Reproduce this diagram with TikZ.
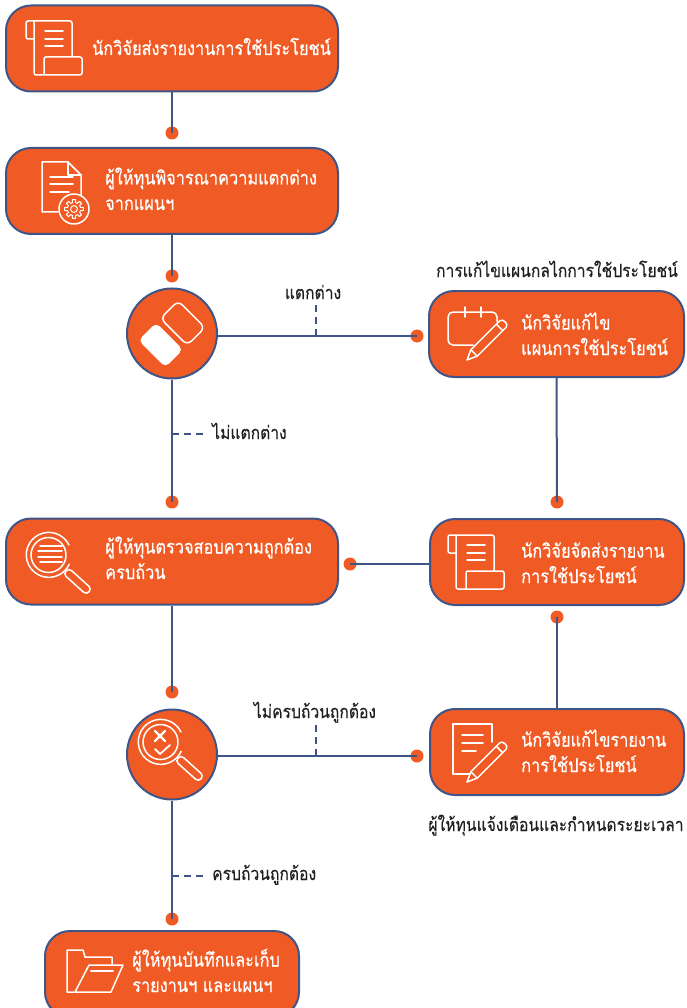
\documentclass[tikz,border=0pt]{standalone}
\usepackage{fontspec}
\setmainfont[Script=Thai]{Loma}
\newfontfamily\boxfont[Script=Thai,FakeStretch=0.86,FakeBold=0.5]{Loma}
\newfontfamily\outfont[Script=Thai,FakeStretch=0.86,FakeBold=0.3]{Loma}
\definecolor{boxorange}{HTML}{F05A24}
\definecolor{navy}{HTML}{3F5588}
\definecolor{labelink}{HTML}{231F20}
\tikzset{
  x=1pt,y=-1pt,
  flowbox/.style={draw=navy,line width=2pt,fill=boxorange,rounded corners=25pt,minimum width=#1,minimum height=86pt,inner sep=0pt},
  roundbox/.style={circle,draw=navy,line width=2pt,fill=boxorange,minimum size=90pt,inner sep=0pt},
  joint/.style={circle,fill=boxorange,minimum size=13pt,inner sep=0pt},
  link/.style={draw=navy,line width=2pt},
  dashlink/.style={draw=navy,line width=1.6pt,dash pattern=on 7pt off 5pt},
  boxtext/.style={anchor=base west,inner sep=0pt,text=white,align=left,font=\boxfont\fontsize{19}{25.5}\selectfont},
  outtext/.style={anchor=base,inner sep=0pt,text=labelink,font=\outfont\fontsize{18.2}{20}\selectfont},
  icon/.style={draw=white,line width=1.5pt,line join=round,line cap=round},
  scrollicon/.pic={
    \draw[icon,rounded corners=2pt] (34,39) -- (26,39) -- (26,21) -- (72,21) -- (72,57);
    \draw[icon,rounded corners=2pt] (34,21) -- (34,75) -- (82,75) -- (82,57) -- (44,57) -- (44,75);
    \draw[icon] (45,31) -- (63,31) (45,39) -- (63,39) (45,46) -- (63,46);
  },
  glassicon/.pic={
    \draw[icon] (48.5,555) circle[radius=17.5];
    \draw[icon] (69,545) arc[start angle=-26,end angle=-335,radius=22.5];
    \begin{scope}[shift={(66,571)},rotate=-42]
      \draw[icon,rounded corners=3.8pt] (0,-4) -- (31,-4) -- (31,4) -- (0,4) -- cycle;
    \end{scope}
  },
  pencilicon/.pic={
    \draw[icon] (0,0) -- (10,-4.5) -- (51,-4.5) .. controls (55,-4.5) and (55,4.5) .. (51,4.5) -- (10,4.5) -- cycle;
    \draw[icon] (10,-4.5) -- (10,4.5) (46,-4.5) -- (46,4.5);
  },
}
\begin{document}
\begin{tikzpicture}
\useasboundingbox (0,0) rectangle (686,1008);
\clip (0,0) rectangle (686,1008);

% boxes
\node[flowbox=332pt] (b1) at (172,48.5) {};
\node[flowbox=332pt] (b2) at (172,191) {};
\node[roundbox] (c1) at (172,333.5) {};
\node[flowbox=255pt] (b3) at (556.5,334) {};
\node[flowbox=332pt] (b4) at (172,561.5) {};
\node[flowbox=254pt] (b5) at (557,562) {};
\node[roundbox] (c2) at (172,754.5) {};
\node[flowbox=254pt] (b6) at (557,752) {};
\node[flowbox=254pt] (b7) at (172,974) {};

% joints
\node[joint] (j1) at (172,133) {};
\node[joint] (j2) at (172,276) {};
\node[joint] (j3) at (417,336) {};
\node[joint] (j4) at (557,502) {};
\node[joint] (j5) at (172,502) {};
\node[joint] (j6) at (350,564) {};
\node[joint] (j7) at (557,617) {};
\node[joint] (j8) at (172,692) {};
\node[joint] (j9) at (417,756) {};
\node[joint] (j10) at (172,919) {};

% connectors
\draw[link] (b1.south) -- (j1.center);
\draw[link] (b2.south) -- (j2.center);
\draw[link] (c1.east |- j3) -- (j3.center);
\draw[link] (b3.south) -- (j4.center);
\draw[link] (c1.south) -- (j5.center);
\draw[link] (b5.west |- j6) -- (j6.center);
\draw[link] (b6.north) -- (j7.center);
\draw[link] (b4.south) -- (j8.center);
\draw[link] (c2.east |- j9) -- (j9.center);
\draw[link] (c2.south) -- (j10.center);

% dashed leaders
\coordinate (t1) at (316,336);  \coordinate (e1) at (316,305);
\coordinate (t2) at (172,434);  \coordinate (e2) at (204,434);
\coordinate (t3) at (316,756);  \coordinate (e3) at (316,725);
\coordinate (t4) at (172,876);  \coordinate (e4) at (204,876);
\draw[dashlink] (t1) -- (e1);
\draw[dashlink] (t2) -- (e2);
\draw[dashlink] (t3) -- (e3);
\draw[dashlink] (t4) -- (e4);

% icons
\pic at (0,0) {scrollicon};
\pic at (422,514) {scrollicon};
\pic at (0,0) {glassicon};
\pic at (112,187) {glassicon};
\draw[icon] (40,546) -- (62,546) (38,551) -- (62,551) (38,557) -- (62,557) (40,562) -- (62,562);

% document + gear
\draw[icon] (58,212) -- (42,212) -- (42,162) -- (68,162) -- (81,175) -- (81,195);
\draw[icon] (68,162) -- (68,175) -- (81,175);
\draw[icon] (50,177) -- (73,177) (50,184) -- (73,184) (50,192) -- (69,192);
\draw[icon] (74,209) circle[radius=15];
\foreach \a in {0,45,...,315}{
  \draw[icon,line width=1pt,shift={(74,209)}] (\a-14:6.6) -- (\a-9:9.4) -- (\a+9:9.4) -- (\a+14:6.6) -- (\a+31:6.6);
}
\draw[icon,line width=1pt] (74,209) circle[radius=3.4];

% eraser
\begin{scope}[shift={(160.7,345)},rotate=-45]
  \fill[white,rounded corners=5pt] (-19,-12.5) rectangle (19,12.5);
\end{scope}
\begin{scope}[shift={(182.7,323)},rotate=-45]
  \draw[icon,rounded corners=6pt] (-19,-12.5) rectangle (19,12.5);
\end{scope}

% calendar + pencil
\draw[icon,rounded corners=5pt] (473,345) -- (448,345) -- (448,312) -- (497,312) -- (497,322);
\draw[icon] (465,307) -- (465,317) (481,307) -- (481,317);
\pic[rotate=45] at (467,360) {pencilicon};

% document + pencil
\draw[icon] (470,774) -- (453,774) -- (453,724) -- (492,724) -- (492,742);
\draw[icon] (462,735) -- (483,735) (462,743) -- (483,743) (462,751) -- (476,751);
\pic[rotate=45] at (467,782) {pencilicon};

% cross and check in the magnifier
\draw[icon,line width=2.2pt] (155,731) -- (165,741) (165,731) -- (155,741);
\draw[icon,line width=1.8pt] (155,749) -- (160,754) -- (170,745);

% folder
\draw[icon] (74,992) -- (67,992) -- (67,950) -- (83,950) -- (85,957) -- (112,957) -- (112,964);
\draw[icon] (75,992) -- (89,965) -- (123,965) -- (111,992) -- cycle;
\draw[icon,line width=2pt] (91,971) -- (113,971);

% box texts
\node[boxtext] (tb1) at (92,55) {นักวิจัยส่งรายงานการใช้ประโยชน์};
\node[boxtext] (tb2) at (105,210) {ผู้ให้ทุนพิจารณาความแตกต่าง\\จากแผนฯ};
\node[boxtext] (tb3) at (521,355) {นักวิจัยแก้ไข\\แผนการใช้ประโยชน์};
\node[boxtext] (tb4) at (105,579) {ผู้ให้ทุนตรวจสอบความถูกต้อง\\ครบถ้วน};
\node[boxtext] (tb5) at (521,583) {นักวิจัยจัดส่งรายงาน\\การใช้ประโยชน์};
\node[boxtext] (tb6) at (521,772) {นักวิจัยแก้ไขรายงาน\\การใช้ประโยชน์};
\node[boxtext] (tb7) at (132,992) {ผู้ให้ทุนบันทึกและเก็บ\\รายงานฯ และแผนฯ};

% outside labels
\node[outtext] (l1) at (557,277) {การแก้ไขแผนกลไกการใช้ประโยชน์};
\node[outtext] (l2) at (313,299) {แตกต่าง};
\node[outtext,anchor=base west] (l3) at (212,439) {ไม่แตกต่าง};
\node[outtext] (l4) at (315,718) {ไม่ครบถ้วนถูกต้อง};
\node[outtext,anchor=base west] (l5) at (212,880) {ครบถ้วนถูกต้อง};
\node[outtext] (l6) at (556,831) {ผู้ให้ทุนแจ้งเตือนและกำหนดระยะเวลา};
\end{tikzpicture}
\end{document}
